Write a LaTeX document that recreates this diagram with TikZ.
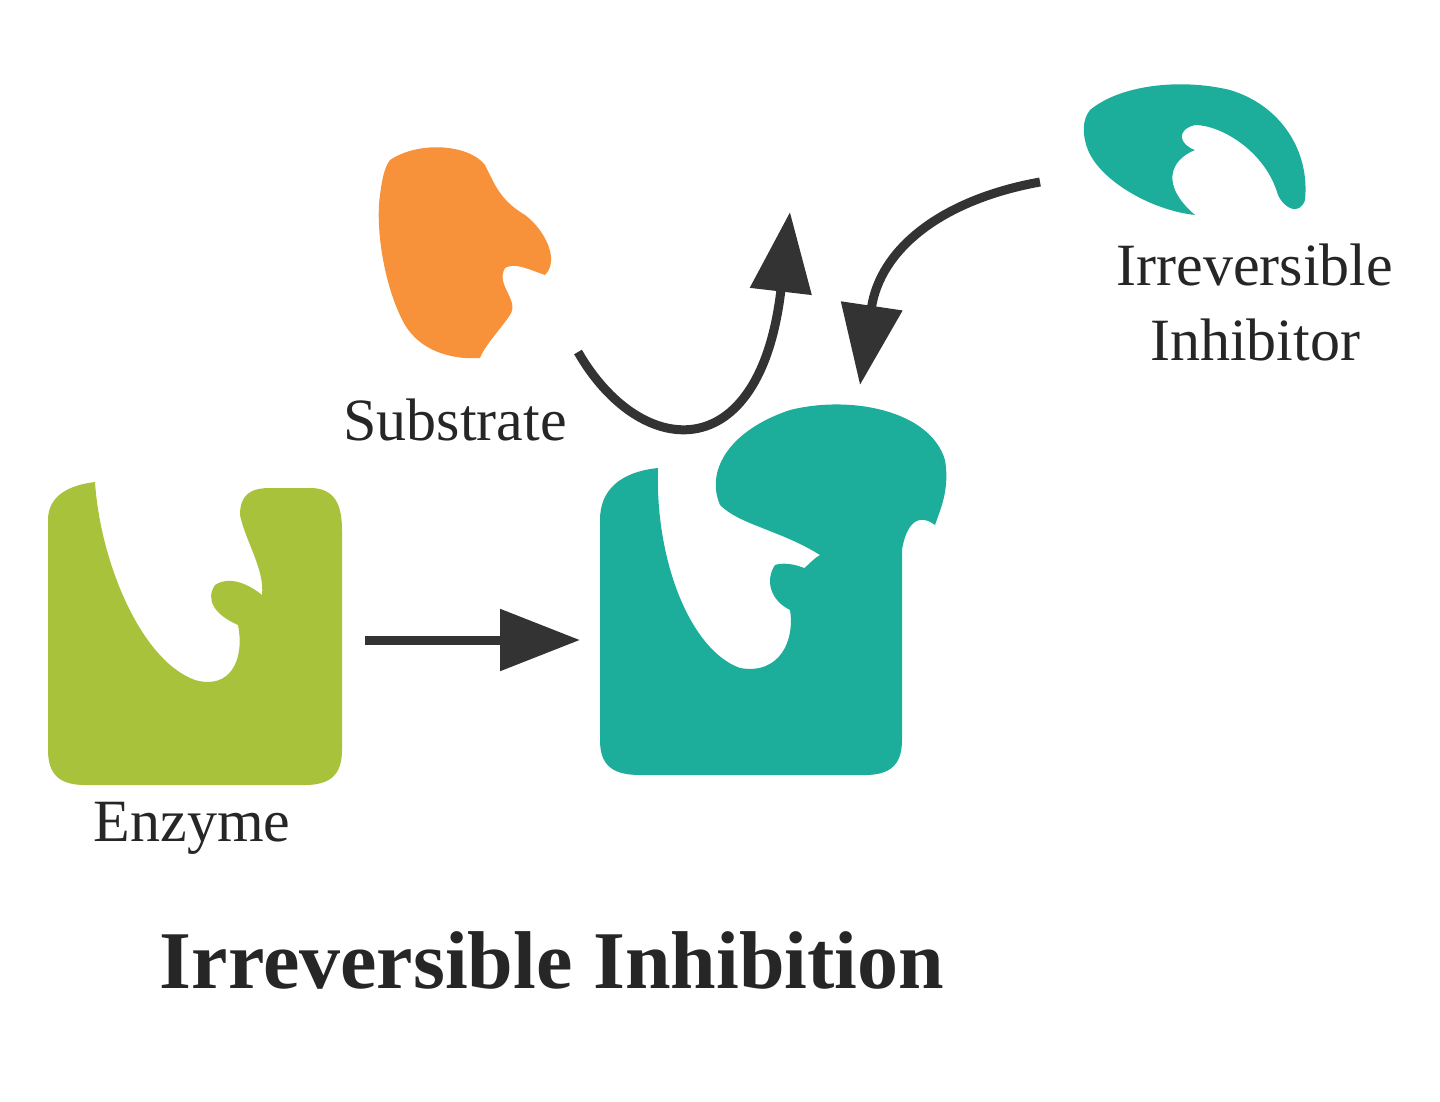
\documentclass[tikz,border=0pt]{standalone}
\usepackage{fontspec}
\setmainfont{Liberation Serif}
\usetikzlibrary{arrows.meta}
\definecolor{ygreen}{HTML}{A9C23C}
\definecolor{teal1}{HTML}{1DAE9B}
\definecolor{orng}{HTML}{F7923B}
\definecolor{arr}{HTML}{333333}
\tikzset{
 lbl/.style={font=\fontsize{60}{75}\selectfont, text=black!85, align=center},
 arrowln/.style={draw=arr, line width=9pt, -{Triangle[length=80pt,width=60pt]}},
}
\begin{document}
\begin{tikzpicture}[x=1pt,y=-1pt]
\useasboundingbox (0,0) rectangle (1440,1101);
% Enzyme
\fill[ygreen] (48,520) .. controls (48,495) and (70,485) .. (95,482)
 .. controls (100,560) and (140,660) .. (195,680)
 .. controls (230,690) and (245,660) .. (238,625)
 .. controls (215,615) and (205,600) .. (215,585)
 .. controls (230,575) and (250,585) .. (262,595)
 .. controls (265,570) and (245,540) .. (240,515)
 .. controls (240,495) and (250,488) .. (270,488)
 -- (310,488) .. controls (335,488) and (342,505) .. (342,530)
 -- (342,750) .. controls (342,775) and (330,785) .. (305,785)
 -- (85,785) .. controls (60,785) and (48,775) .. (48,750) -- cycle;
% Bound enzyme
\fill[teal1] (600,520) .. controls (600,490) and (620,472) .. (658,468)
 .. controls (655,560) and (690,650) .. (740,668)
 .. controls (780,675) and (795,640) .. (790,610)
 .. controls (770,600) and (765,580) .. (775,565)
 .. controls (790,560) and (815,570) .. (825,582)
 -- (780,580)
 .. controls (800,578) and (810,560) .. (820,555)
 .. controls (780,530) and (740,525) .. (720,505)
 .. controls (705,470) and (730,430) .. (790,410)
 .. controls (850,395) and (930,410) .. (945,460)
 .. controls (950,490) and (940,510) .. (935,525)
 .. controls (915,510) and (905,530) .. (902,550)
 -- (902,740) .. controls (902,765) and (890,775) .. (865,775)
 -- (640,775) .. controls (612,775) and (600,765) .. (600,740) -- cycle;
% Substrate
\fill[orng] (390,160) .. controls (420,140) and (470,145) .. (485,165)
 .. controls (495,185) and (500,200) .. (525,215)
 .. controls (545,230) and (560,260) .. (545,275)
 .. controls (530,270) and (515,262) .. (505,268)
 .. controls (495,285) and (520,300) .. (510,315)
 .. controls (500,330) and (485,345) .. (480,358)
 .. controls (450,360) and (420,350) .. (405,325)
 .. controls (385,290) and (375,230) .. (380,195)
 .. controls (382,180) and (384,168) .. (390,160) -- cycle;
% Free inhibitor
\fill[teal1] (1090,110) .. controls (1120,85) and (1180,78) .. (1230,90)
 .. controls (1280,105) and (1310,150) .. (1305,200)
 .. controls (1300,215) and (1285,210) .. (1278,195)
 .. controls (1265,150) and (1220,125) .. (1195,125)
 .. controls (1175,130) and (1180,145) .. (1195,150)
 .. controls (1170,160) and (1160,185) .. (1195,215)
 .. controls (1150,210) and (1100,180) .. (1088,150)
 .. controls (1082,135) and (1082,120) .. (1090,110) -- cycle;
% Labels
\node[lbl] (sub) at (455,420) {Substrate};
\node[lbl] (enz) at (192,828) {Enzyme};
\node[lbl] (inh) at (1255,302) {Irreversible\\Inhibitor};
\node[lbl, font=\fontsize{82}{90}\selectfont\bfseries] (title) at (552,960) {Irreversible Inhibition};
% Arrows
\coordinate (h1) at (365,640); \coordinate (h2) at (580,640);
\draw[arrowln] (h1) -- (h2);
\coordinate (s1) at (578,352); \coordinate (s2) at (790,212);
\draw[arrowln] (s1) .. controls (640,460) and (760,470) .. (s2);
\coordinate (i1) at (1040,182); \coordinate (i2) at (860,385);
\draw[arrowln] (i1) .. controls (940,200) and (880,250) .. (i2);
\end{tikzpicture}
\end{document}
